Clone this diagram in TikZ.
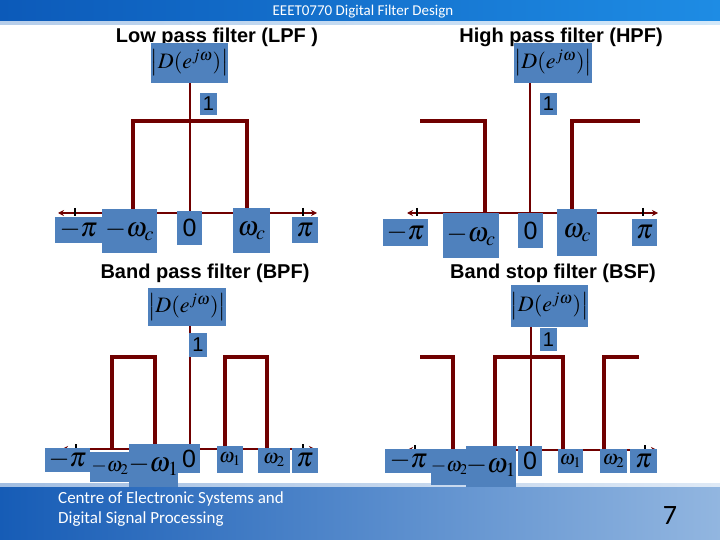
\documentclass[tikz,border=0pt]{standalone}
\usepackage{mathptmx}
\usepackage{fontspec}
\setmainfont{Liberation Sans}
\newfontfamily\calib{Carlito}
\usetikzlibrary{arrows.meta}
\definecolor{boxblue}{RGB}{79,129,189}
\definecolor{lred}{RGB}{112,0,0}
\definecolor{hdrL}{RGB}{12,90,185}
\definecolor{hdrR}{RGB}{30,140,228}
\definecolor{ftrL}{RGB}{22,92,182}
\definecolor{ftrR}{RGB}{146,182,224}
\newcommand\lbox[6]{\node[lbl,minimum width={(#4-#2)*1pt},minimum height={(#5-#3)*1pt}] (#1) at ({(#2+#4)/2},{(#3+#5)/2}) {#6};}
\newcommand\lgmath[1]{\fontsize{27}{27}\selectfont$#1$}
\newcommand\mdmath[1]{\fontsize{20}{20}\selectfont$#1$}
\newcommand\dlab{\fontsize{22}{22}\selectfont$\left|D(e^{j\omega})\right|$}
\newcommand\zerolab{\fontsize{25}{25}\selectfont 0}
\newcommand\onelab{\fontsize{20}{20}\selectfont 1}
\tikzset{
  lbl/.style={fill=boxblue,inner sep=0pt,text=black,align=center},
  ttl/.style={font=\bfseries\fontsize{20}{20}\selectfont,inner sep=0pt},
  axisline/.style={draw=lred,line width=2.2pt,{Stealth[length=6pt,width=6pt]}-{Stealth[length=6pt,width=6pt]}},
  vaxis/.style={draw=lred,line width=2.2pt},
  resp/.style={draw=lred,line width=3.6pt,line join=miter},
  tickmark/.style={draw=black,line width=2pt}
}
\begin{document}
\begin{tikzpicture}[x=1pt,y=-1pt]
\useasboundingbox (0,0) rectangle (720,540);
\fill[white] (0,0) rectangle (720,540);
% header
\shade[left color=hdrL,right color=hdrR] (0,0) rectangle (720,22);
\shade[left color=white!70!hdrL,right color=white!80!hdrR] (0,22) rectangle (720,25);
\node[text=white,font=\calib\fontsize{15}{15}\selectfont] (hdr) at (363,12) {EEET0770 Digital Filter Design};
% footer
\shade[left color=white!60!ftrL,right color=white!70!ftrR] (0,483) rectangle (720,487);
\shade[left color=ftrL,right color=ftrR] (0,487) rectangle (720,540);
\node[text=white,font=\calib\fontsize{17}{20}\selectfont,anchor=north west,align=left,inner sep=0pt] (ftr) at (58,491) {Centre of Electronic Systems and\\Digital Signal Processing};
\node[text=black,font=\calib\fontsize{28}{28}\selectfont] (pg) at (670,516) {7};

% ---------- LPF ----------
\node[ttl] (tL) at (217,37) {Low pass filter (LPF )};
\coordinate (aLl) at (58,213); \coordinate (aLr) at (317,213); \coordinate (oL) at (190,213);
\draw[axisline] (aLl) -- (aLr);
\draw[tickmark] (75,208) -- (75,216);
\draw[tickmark] (303,208) -- (303,216);
\lbox{dL}{151}{43}{228}{83}{\dlab}
\draw[vaxis] (dL.south -| oL) -- (oL);
\draw[resp] (133,213) -- (133,121) -- (247,121) -- (247,213);
\lbox{oneL}{200}{93}{217}{115}{\onelab}
\lbox{mpL}{55}{217}{102}{243}{\lgmath{-\pi}}
\lbox{mwL}{102}{209}{157}{253}{\lgmath{-\omega_c}}
\lbox{zL}{177}{211}{202}{245}{\zerolab}
\lbox{wL}{233}{208}{270}{253}{\lgmath{\omega_c}}
\lbox{pL}{292}{217}{318}{243}{\lgmath{\pi}}

% ---------- HPF ----------
\node[ttl] (tH) at (561,37) {High pass filter (HPF)};
\coordinate (aHl) at (407,213); \coordinate (aHr) at (658,213); \coordinate (oH) at (530,213);
\draw[axisline] (aHl) -- (aHr);
\draw[tickmark] (417,208) -- (417,216);
\draw[tickmark] (643,208) -- (643,216);
\lbox{dH}{514}{43}{592}{83}{\dlab}
\draw[vaxis] (dH.south -| oH) -- (oH);
\draw[resp] (420,121) -- (485,121) -- (485,213);
\draw[resp] (572,213) -- (572,121) -- (640,121);
\lbox{oneH}{540}{93}{557}{115}{\onelab}
\lbox{mpH}{383}{219}{428}{246}{\lgmath{-\pi}}
\lbox{mwH}{443}{213}{499}{258}{\lgmath{-\omega_c}}
\lbox{zH}{518}{213}{543}{248}{\zerolab}
\lbox{wH}{557}{209}{597}{256}{\lgmath{\omega_c}}
\lbox{pH}{632}{219}{657}{246}{\lgmath{\pi}}

% ---------- BPF ----------
\node[ttl] (tB) at (205,273) {Band pass filter (BPF)};
\coordinate (aBl) at (62,449); \coordinate (aBr) at (315,449); \coordinate (oB) at (190,449);
\draw[axisline] (aBl) -- (aBr);
\draw[tickmark] (76,444) -- (76,452);
\draw[tickmark] (303,444) -- (303,452);
\lbox{dB}{149}{288}{225}{326}{\dlab}
\draw[vaxis] (dB.south -| oB) -- (oB);
\draw[resp] (112,449) -- (112,357) -- (155,357) -- (155,449);
\draw[resp] (225,449) -- (225,357) -- (267,357) -- (267,449);
\lbox{oneB}{189}{333}{207}{357}{\onelab}
\lbox{mpB}{45}{448}{90}{472}{\lgmath{-\pi}}
\lbox{mw2B}{90}{452}{130}{482}{\mdmath{-\omega_2}}
\lbox{mw1B}{129}{444}{178}{487}{\lgmath{-\omega_1}}
\lbox{zB}{178}{444}{200}{473}{\zerolab}
\lbox{w1B}{217}{446}{243}{473}{\mdmath{\omega_1}}
\lbox{w2B}{258}{448}{290}{473}{\mdmath{\omega_2}}
\lbox{pB}{292}{448}{318}{473}{\lgmath{\pi}}

% ---------- BSF ----------
\node[ttl] (tS) at (553,273) {Band stop filter (BSF)};
\coordinate (aSl) at (407,450); \coordinate (aSr) at (657,450); \coordinate (oS) at (531,450);
\draw[axisline] (aSl) -- (aSr);
\draw[tickmark] (415,445) -- (415,453);
\draw[tickmark] (645,445) -- (645,453);
\lbox{dS}{512}{285}{587}{327}{\dlab}
\draw[vaxis] (dS.south -| oS) -- (oS);
\draw[resp] (420,357) -- (453,357) -- (453,450);
\draw[resp] (495,450) -- (495,357) -- (563,357) -- (563,450);
\draw[resp] (604,450) -- (604,357) -- (639,357);
\lbox{oneS}{540}{328}{557}{351}{\onelab}
\lbox{mpS}{385}{449}{432}{473}{\lgmath{-\pi}}
\lbox{mw2S}{432}{449}{467}{485}{\mdmath{-\omega_2}}
\lbox{mw1S}{467}{446}{515}{487}{\lgmath{-\omega_1}}
\lbox{zS}{518}{446}{542}{476}{\zerolab}
\lbox{w1S}{558}{449}{583}{473}{\mdmath{\omega_1}}
\lbox{w2S}{600}{449}{627}{473}{\mdmath{\omega_2}}
\lbox{pS}{630}{449}{657}{473}{\lgmath{\pi}}
\end{tikzpicture}
\end{document}
